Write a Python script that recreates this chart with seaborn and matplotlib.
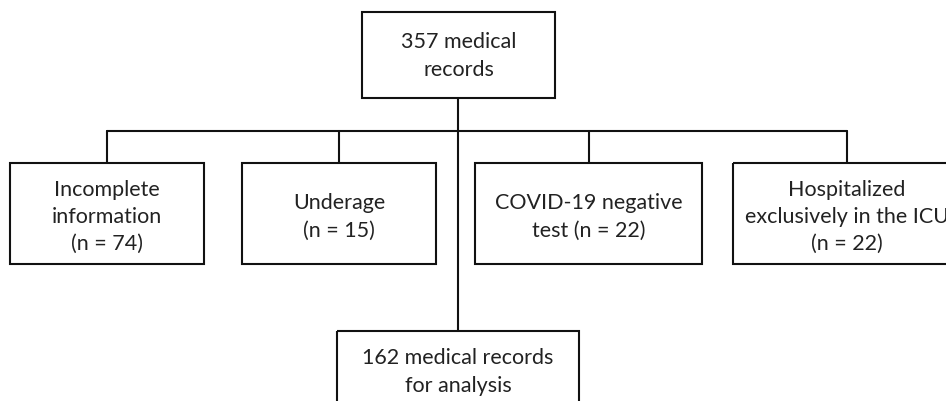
import matplotlib
matplotlib.use("Agg")
import matplotlib.pyplot as plt
import seaborn as sns
from matplotlib.patches import Rectangle

# flowchart content
top_label = "357 medical\nrecords"
excluded_labels = [
    "Incomplete\ninformation\n(n = 74)",
    "Underage\n(n = 15)",
    "COVID-19 negative\ntest (n = 22)",
    "Hospitalized\nexclusively in the ICU\n(n = 22)",
]
final_label = "162 medical records\nfor analysis"

# layout in pixels (figure is 946 x 402)
W, H = 946, 402
top_box = (362, 13, 193, 86)          # x, y, w, h
excl_boxes = [(10, 164, 194, 101), (242, 164, 194, 101),
              (475, 164, 227, 101), (733, 164, 228, 101)]
final_box = (337, 332, 242, 101)
bus_y = 132
trunk_x = 458

sns.set_theme(style="white")
plt.rcParams["font.family"] = ["Lato", "DejaVu Sans"]

fig = plt.figure(figsize=(W / 100, H / 100), dpi=100)
ax = fig.add_axes([0, 0, 1, 1])
ax.set_xlim(0, W)
ax.set_ylim(H, 0)
ax.axis("off")

lw = 1.5
col = "#111111"


def box(b, text, ty=None):
    x, y, w, h = b
    ax.add_patch(Rectangle((x, y), w, h, fill=False, lw=lw, ec=col, zorder=3))
    cy = y + h / 2 if ty is None else ty
    ax.text(x + w / 2, cy, text, ha="center", va="center", fontsize=15.5,
            color="#222222", linespacing=1.45, zorder=4)


box(top_box, top_label, ty=56)
for b, lab in zip(excl_boxes, excluded_labels):
    box(b, lab, ty=217)
box(final_box, final_label, ty=372)

# connectors
centers = [b[0] + b[2] / 2 for b in excl_boxes]
ax.plot([centers[0], centers[-1]], [bus_y, bus_y], color=col, lw=lw)
ax.plot([trunk_x, trunk_x], [top_box[1] + top_box[3], final_box[1]],
        color=col, lw=lw)
for cx in centers:
    ax.plot([cx, cx], [bus_y, excl_boxes[0][1]], color=col, lw=lw)

fig.savefig("out.png", dpi=100, facecolor="white")
